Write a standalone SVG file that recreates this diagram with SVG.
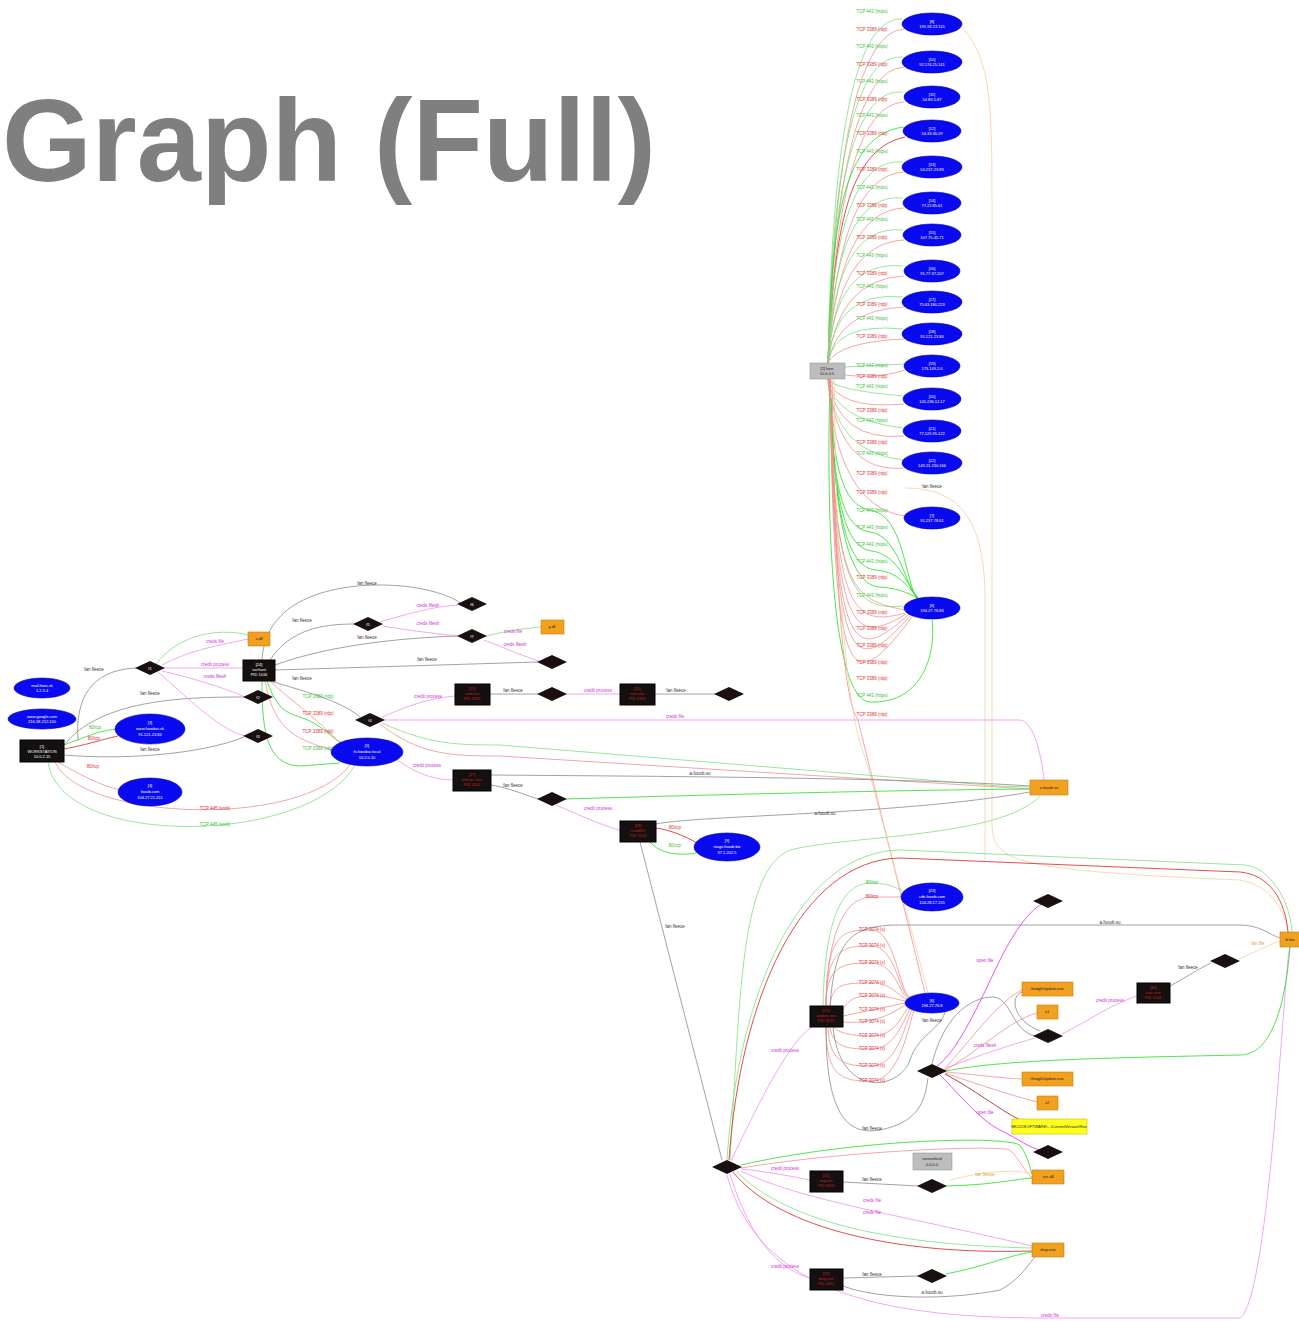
<svg xmlns="http://www.w3.org/2000/svg" width="1299" height="1321" viewBox="0 0 1299 1321">
<style>
text{font-family:"Liberation Sans",Arial,sans-serif}
.title{font-size:117px;font-weight:bold;fill:#7f7f7f}
.e path,path.e{fill:none;stroke-width:0.8}
.g{stroke:#7de07d}.gt{stroke:#22dd22;stroke-width:3}
.r{stroke:#f09090}.rt{stroke:#dd2020;stroke-width:2.5}
.k{stroke:#8a8a8a}.m{stroke:#f08ef0}.mt{stroke:#ee22ee;stroke-width:3}
.o{stroke:#f2d0a0}.dr{stroke:#a01010;stroke-width:3}
.l{font-size:4.5px;text-anchor:middle}
.lg{fill:#40c040}.lr{fill:#e03030}.lk{fill:#333}.lm{fill:#d030d0}.lo{fill:#e0a040}
.bl{fill:#0a0af0;stroke:#0000a0;stroke-width:0.6}
.bk{fill:#141010;stroke:#000}
.dm{fill:#1a1010}
.or{fill:#f2a020;stroke:#c08010;stroke-width:0.6}
.gr{fill:#bdbdbd;stroke:#999;stroke-width:0.6}
.ye{fill:#ffff20;stroke:#c0c000;stroke-width:0.6}
.nt{font-size:4px;text-anchor:middle;fill:#fff}
.nr{font-size:4px;text-anchor:middle;fill:#c02020}
.nd{font-size:4px;text-anchor:middle;fill:#222}
</style>
<defs>
<polygon id="dia" points="-15,0 0,-7 15,0 0,7"/>
</defs>
<rect width="1299" height="1321" fill="#fff"/>
<text class="title" x="2" y="181" textLength="654" lengthAdjust="spacingAndGlyphs">Graph (Full)</text>

<g id="connectors">
<!-- top column from gray rect -->
<g class="e">
<path class="g" d="M828,363 Q834,12 903,19"/><path class="r" d="M828,363 Q838,32 904,29"/>
<path class="g" d="M828,363 Q834,50 903,57"/><path class="r" d="M828,363 Q838,70 904,67"/>
<path class="g" d="M828,363 Q834,85 903,92"/><path class="r" d="M828,363 Q838,105 904,102"/>
<path class="gt" d="M828,363 C832,250 835,135 904,127"/><path class="rt" d="M828,363 C834,250 842,150 905,137"/>
<path class="g" d="M828,363 Q834,155 903,162"/><path class="r" d="M828,363 Q838,175 904,172"/>
<path class="g" d="M828,363 Q834,191 903,198"/><path class="r" d="M828,363 Q838,211 904,208"/>
<path class="g" d="M828,363 Q834,223 903,230"/><path class="r" d="M828,363 Q838,243 904,240"/>
<path class="g" d="M828,363 Q834,259 903,266"/><path class="r" d="M828,363 Q838,279 904,276"/>
<path class="g" d="M828,363 Q834,290 903,297"/><path class="r" d="M828,363 Q838,310 904,307"/>
<path class="g" d="M828,363 Q834,322 903,329"/><path class="r" d="M828,363 Q838,342 904,339"/>
<path class="g" d="M845,367 L904,364"/><path class="r" d="M845,375 C870,378 890,375 905,370"/>
<path class="g" d="M828,379 Q834,390 903,396"/><path class="r" d="M828,379 Q838,410 904,404"/>
<path class="g" d="M828,379 Q834,420 903,428"/><path class="r" d="M828,379 Q838,442 904,436"/>
<path class="g" d="M828,379 Q834,452 903,460"/><path class="r" d="M828,379 Q838,474 904,468"/>
<path class="r" d="M828,379 Q836,505 904,516"/>
<path class="gt" d="M830,379 C832,450 838,505 870,510 C905,515 905,585 918,600"/>
<path class="gt" d="M830,379 C832,470 838,528 870,532 C900,536 905,588 919,600"/>
<path class="gt" d="M830,379 C833,490 842,548 872,551 C900,555 908,590 920,600"/>
<path class="gt" d="M830,379 C833,510 846,568 876,570 C902,572 910,592 921,600"/>
<path class="gt" d="M830,379 C834,530 850,585 880,587 C905,589 912,596 922,600"/>
<path class="gt" d="M830,379 C826,520 832,700 870,702 C925,704 936,650 932,620"/>
<path class="g" d="M830,379 C833,580 850,612 903,606"/>
<path class="r" d="M830,379 C834,590 850,598 904,610"/>
<path class="r" d="M830,379 C834,610 850,628 905,613"/>
<path class="r" d="M830,379 C834,630 850,648 906,614"/>
<path class="r" d="M830,379 C834,650 850,668 908,615"/>
<path class="r" d="M830,379 C834,665 850,684 910,616"/>
<path class="r" d="M830,379 C834,690 848,702 912,617"/>
<path class="r" d="M832,380 C836,620 845,700 858,720 L925,993"/>
<path class="o" d="M834,380 C838,640 850,720 866,760 L928,993"/>
<path class="o" d="M963,28 C990,60 992,100 992,200 L992,820 C992,860 1000,870 1240,880 C1270,885 1285,910 1288,932"/>
<path class="o" d="M905,488 C960,488 985,520 985,600 L985,860"/>
</g>
<g class="l">
<text class="lg" x="872" y="13">TCP 443 (https)</text><text class="lr" x="872" y="31">TCP 3389 (rdp)</text>
<text class="lg" x="872" y="48">TCP 443 (https)</text><text class="lr" x="872" y="66">TCP 3389 (rdp)</text>
<text class="lg" x="872" y="83">TCP 443 (https)</text><text class="lr" x="872" y="101">TCP 3389 (rdp)</text>
<text class="lg" x="872" y="117">TCP 443 (https)</text><text class="lr" x="872" y="135">TCP 3389 (rdp)</text>
<text class="lg" x="872" y="153">TCP 443 (https)</text><text class="lr" x="872" y="171">TCP 3389 (rdp)</text>
<text class="lg" x="872" y="189">TCP 443 (https)</text><text class="lr" x="872" y="207">TCP 3389 (rdp)</text>
<text class="lg" x="872" y="221">TCP 443 (https)</text><text class="lr" x="872" y="239">TCP 3389 (rdp)</text>
<text class="lg" x="872" y="257">TCP 443 (https)</text><text class="lr" x="872" y="275">TCP 3389 (rdp)</text>
<text class="lg" x="872" y="288">TCP 443 (https)</text><text class="lr" x="872" y="306">TCP 3389 (rdp)</text>
<text class="lg" x="872" y="320">TCP 443 (https)</text><text class="lr" x="872" y="338">TCP 3389 (rdp)</text>
<text class="lg" x="872" y="367">TCP 443 (https)</text><text class="lr" x="872" y="378">TCP 3389 (rdp)</text>
<text class="lg" x="872" y="388">TCP 443 (https)</text><text class="lr" x="872" y="412">TCP 3389 (rdp)</text>
<text class="lg" x="872" y="422">TCP 443 (https)</text><text class="lr" x="872" y="444">TCP 3389 (rdp)</text>
<text class="lg" x="872" y="455">TCP 443 (https)</text><text class="lr" x="872" y="475">TCP 3389 (rdp)</text>
<text class="lr" x="872" y="494">TCP 3389 (rdp)</text>
<text class="lg" x="872" y="512">TCP 443 (https)</text>
<text class="lg" x="872" y="529">TCP 443 (https)</text>
<text class="lg" x="872" y="546">TCP 443 (https)</text>
<text class="lg" x="872" y="563">TCP 443 (https)</text>
<text class="lr" x="872" y="579">TCP 3389 (rdp)</text>
<text class="lg" x="872" y="597">TCP 443 (https)</text>
<text class="lr" x="872" y="614">TCP 3389 (rdp)</text>
<text class="lr" x="872" y="630">TCP 3389 (rdp)</text>
<text class="lr" x="872" y="647">TCP 3389 (rdp)</text>
<text class="lr" x="872" y="664">TCP 3389 (rdp)</text>
<text class="lr" x="872" y="680">TCP 3389 (rdp)</text>
<text class="lg" x="872" y="697">TCP 443 (https)</text>
<text class="lr" x="872" y="716">TCP 3389 (rdp)</text>
<text class="lk" x="932" y="488" fill="#aaa">fan fleece</text>
</g>

<!-- left cluster -->
<g class="e">
<path class="gt" d="M64,745 C90,735 100,731 116,729"/>
<path class="rt" d="M64,749 C90,744 100,740 118,736"/>
<path class="r" d="M58,762 C80,775 100,785 120,790"/>
<path class="k" d="M78,740 C75,700 90,670 136,668"/>
<path class="k" d="M64,745 C100,700 180,697 244,697"/>
<path class="k" d="M64,755 C120,760 200,755 244,737"/>
<path class="r" d="M55,762 C80,820 300,830 350,765"/>
<path class="g" d="M48,762 C60,850 310,845 355,765"/>
<path class="m" d="M162,665 C190,650 220,645 248,639"/>
<path class="g" d="M248,635 C220,628 180,633 156,664"/>
<path class="m" d="M164,668 L243,668"/>
<path class="m" d="M162,671 C200,680 230,690 245,697"/>
<path class="m" d="M158,672 C190,700 220,730 245,736"/>
<path class="k" d="M262,660 C265,600 330,585 380,585 C420,585 450,595 460,603"/>
<path class="k" d="M270,660 C290,630 320,624 355,624"/>
<path class="k" d="M275,665 C330,645 400,638 458,636"/>
<path class="k" d="M275,670 L538,662"/>
<path class="k" d="M270,681 C300,690 340,700 360,717"/>
<path class="gt" d="M262,681 C262,730 266,765 300,766 L340,763"/>
<path class="gt" d="M267,681 C280,718 292,712 312,722 C330,732 335,742 346,744"/>
<path class="r" d="M270,681 C290,700 310,712 345,748"/>
<path class="r" d="M265,681 C275,735 300,740 338,752"/>
<path class="m" d="M380,622 C420,610 440,606 458,605"/>
<path class="m" d="M382,626 C420,632 440,634 458,636"/>
<path class="g" d="M486,636 C510,630 530,628 541,627"/>
<path class="m" d="M484,640 C510,650 525,657 539,661"/>
<path class="m" d="M382,717 C410,705 430,698 455,696"/>
<path class="m" d="M384,720 L1020,720 C1035,722 1042,760 1044,780"/>
<path class="g" d="M382,723 C430,745 460,745 500,745 L1000,786 L1030,787"/>
<path class="r" d="M380,724 C420,755 450,756 500,756 L1030,789"/>
<path class="k" d="M490,694 L538,694"/>
<path class="m" d="M566,694 L620,694"/>
<path class="k" d="M655,694 L715,694"/>
<path class="m" d="M395,758 C410,770 430,780 453,780"/>
<path class="k" d="M491,775 C600,776 900,777 1030,786"/>
<path class="k" d="M491,785 C510,788 525,795 538,799"/>
<path class="gt" d="M566,799 C700,795 900,790 1030,789"/>
<path class="m" d="M556,805 C580,815 600,825 620,830"/>
<path class="rt" d="M656,828 C670,830 685,836 697,843"/>
<path class="gt" d="M650,842 C660,854 680,856 696,853"/>
<path class="k" d="M656,824 C700,815 900,815 1030,792"/>
<path class="k" d="M640,842 L722,1160"/>
<path class="g" d="M730,1160 C740,1000 740,870 790,850 C850,835 1000,838 1040,796"/>
</g>
<g class="l">
<text class="lg" x="95" y="729">80/tcp</text>
<text class="lr" x="94" y="740">80/tcp</text>
<text class="lr" x="93" y="768">80/tcp</text>
<text class="lk" x="94" y="671">fan fleece</text>
<text class="lk" x="150" y="695">fan fleece</text>
<text class="lk" x="150" y="751">fan fleece</text>
<text class="lr" x="215" y="810">TCP 445 (smb)</text>
<text class="lg" x="215" y="826">TCP 445 (smb)</text>
<text class="lm" x="215" y="643">creds file</text>
<text class="lm" x="215" y="666">credit process</text>
<text class="lm" x="215" y="678">creds filesh</text>
<text class="lk" x="367" y="585">fan fleece</text>
<text class="lk" x="302" y="622">fan fleece</text>
<text class="lk" x="367" y="639">fan fleece</text>
<text class="lk" x="427" y="661">fan fleece</text>
<text class="lk" x="302" y="680">fan fleece</text>
<text class="lg" x="318" y="698">TCP 3389 (rdp)</text>
<text class="lr" x="318" y="715">TCP 3389 (rdp)</text>
<text class="lr" x="318" y="733">TCP 3389 (rdp)</text>
<text class="lg" x="318" y="750">TCP 3389 (rdp)</text>
<text class="lm" x="428" y="607">creds filesh</text>
<text class="lm" x="428" y="625">creds filesh</text>
<text class="lm" x="513" y="633">creds file</text>
<text class="lm" x="515" y="646">creds filesh</text>
<text class="lm" x="428" y="698">credit process</text>
<text class="lm" x="675" y="718">creds file</text>
<text class="lk" x="513" y="692">fan fleece</text>
<text class="lm" x="598" y="692">credit process</text>
<text class="lk" x="676" y="692">fan fleece</text>
<text class="lm" x="427" y="767">credit process</text>
<text class="lk" x="700" y="775">a.fooob.su</text>
<text class="lk" x="513" y="787">fan fleece</text>
<text class="lm" x="598" y="810">credit process</text>
<text class="lr" x="675" y="829">80/tcp</text>
<text class="lg" x="675" y="847">80/tcp</text>
<text class="lk" x="825" y="815">a.fooob.su</text>
<text class="lk" x="675" y="928">fan fleece</text>
</g>

<!-- right cluster -->
<g class="e">
<path class="rt" d="M729,1160 C740,1000 800,860 900,858 L1240,872 C1270,875 1285,900 1288,932"/>
<path class="g" d="M727,1160 C738,990 800,852 900,850 L1245,865 C1270,868 1290,900 1292,932"/>
<path class="gt" d="M741,1165 C850,1140 1000,1135 1020,1145 C1030,1160 1030,1170 1032,1174"/>
<path class="r" d="M741,1168 C850,1150 1000,1145 1010,1150 C1020,1160 1025,1172 1032,1178"/>
<path class="m" d="M741,1169 C770,1172 790,1176 810,1180"/>
<path class="k" d="M843,1182 L918,1186"/>
<path class="gt" d="M946,1186 C990,1185 1010,1180 1032,1178"/>
<path class="o" d="M950,1180 C990,1170 1010,1170 1032,1173"/>
<path class="rt" d="M733,1172 C780,1230 900,1255 1032,1251"/>
<path class="g" d="M737,1172 C790,1225 900,1245 1032,1248"/>
<path class="m" d="M741,1171 C800,1200 900,1215 1032,1246"/>
<path class="m" d="M730,1174 C750,1240 780,1270 810,1278"/>
<path class="k" d="M843,1278 L918,1276"/>
<path class="gt" d="M946,1274 C990,1265 1010,1255 1032,1252"/>
<path class="k" d="M843,1286 C880,1300 950,1300 1000,1290 C1020,1280 1030,1262 1035,1257"/>
<path class="m" d="M727,1175 C760,1300 900,1318 1050,1318 L1240,1318 C1270,1300 1285,950 1290,947"/>
<path class="m" d="M731,1161 C760,1100 790,1040 812,1027"/>
<path class="r" d="M826,1006 C826,930 845,930 872,930 C895,930 900,995 910,997"/>
<path class="r" d="M826,1006 C826,946 845,946 872,946 C895,946 900,995 909,997"/>
<path class="r" d="M826,1006 C826,963 845,963 872,963 C895,963 900,996 908,998"/>
<path class="r" d="M830,1006 C832,983 845,983 872,983 C892,983 900,998 907,999"/>
<path class="r" d="M843,1010 C850,996 860,996 872,996 C890,996 898,1000 905,1001"/>
<path class="r" d="M843,1016 L905,1003"/>
<path class="r" d="M843,1022 C855,1023 880,1023 905,1005"/>
<path class="r" d="M834,1027 C840,1035 860,1036 872,1036 C895,1036 902,1015 908,1008"/>
<path class="r" d="M830,1027 C833,1049 850,1049 872,1049 C896,1049 904,1018 910,1009"/>
<path class="r" d="M828,1027 C829,1065 848,1066 872,1066 C898,1066 906,1020 912,1010"/>
<path class="r" d="M826,1027 C826,1080 845,1081 872,1081 C900,1081 910,1020 914,1010"/>
<path class="r" d="M826,1006 C828,920 850,897 872,897 C885,897 895,897 901,897"/>
<path class="g" d="M823,1006 C825,900 850,883 872,883 C890,883 900,890 905,892"/>
<path class="k" d="M830,1006 C835,940 850,925 900,925 L1240,925 C1260,925 1270,935 1280,938"/>
<path class="k" d="M826,1027 C826,1120 850,1135 880,1130 C920,1122 925,1100 928,1078"/>
<path class="k" d="M833,1027 C840,1100 900,1090 910,1060 C918,1035 940,1030 945,1012"/>
<path class="k" d="M932,1064 C940,1030 960,1000 990,997 C1012,995 1010,1030 1035,1036"/>
<path class="k" d="M1040,1031 C1012,1020 1010,996 1022,992"/>
<path class="mt" d="M937,1066 C960,1050 985,990 1000,960 C1015,930 1030,910 1042,904"/>
<path class="mt" d="M940,1075 C960,1095 980,1120 1000,1130 C1020,1140 1030,1148 1040,1150"/>
<path class="dr" d="M945,1074 C975,1090 1000,1110 1020,1120"/>
<path class="r" d="M944,1070 C970,1040 1000,1000 1022,990"/>
<path class="r" d="M944,1071 C980,1050 1010,1020 1037,1013"/>
<path class="r" d="M946,1072 C980,1075 1000,1078 1022,1079"/>
<path class="r" d="M945,1073 C980,1085 1010,1095 1037,1102"/>
<path class="gt" d="M946,1071 C1000,1060 1100,1058 1240,1055 C1270,1055 1285,1010 1290,947"/>
<path class="m" d="M946,1068 C980,1055 1010,1045 1035,1038"/>
<path class="m" d="M1062,1034 C1090,1020 1110,1005 1137,996"/>
<path class="k" d="M1170,986 C1190,975 1200,968 1211,963"/>
<path class="o" d="M1239,959 C1260,950 1270,944 1280,941"/>
</g>
<g class="l">
<text class="lm" x="785" y="1170">credit process</text>
<text class="lk" x="872" y="1181">fan fleece</text>
<text class="lo" x="985" y="1176">fan fleece</text>
<text class="lm" x="872" y="1202">creds file</text>
<text class="lm" x="872" y="1214">creds file</text>
<text class="lm" x="785" y="1268">credit process</text>
<text class="lk" x="872" y="1276">fan fleece</text>
<text class="lk" x="932" y="1294">a.fooob.su</text>
<text class="lm" x="1050" y="1317">creds file</text>
<text class="lm" x="785" y="1052">credit process</text>
<text class="lr" x="872" y="931">TCP 3074 (x)</text>
<text class="lr" x="872" y="947">TCP 3074 (x)</text>
<text class="lr" x="872" y="964">TCP 3074 (x)</text>
<text class="lr" x="872" y="984">TCP 3074 (x)</text>
<text class="lr" x="872" y="997">TCP 3074 (x)</text>
<text class="lr" x="872" y="1011">TCP 3074 (x)</text>
<text class="lr" x="872" y="1023">TCP 3074 (x)</text>
<text class="lr" x="872" y="1037">TCP 3074 (x)</text>
<text class="lr" x="872" y="1050">TCP 3074 (x)</text>
<text class="lr" x="872" y="1067">TCP 3074 (x)</text>
<text class="lr" x="872" y="1082">TCP 3074 (x)</text>
<text class="lr" x="872" y="898">80/tcp</text>
<text class="lg" x="872" y="884">80/tcp</text>
<text class="lk" x="1110" y="924">a.fooob.su</text>
<text class="lk" x="872" y="1130">fan fleece</text>
<text class="lk" x="932" y="1022">fan fleece</text>
<text class="lm" x="985" y="962">open file</text>
<text class="lm" x="985" y="1047">creds filesh</text>
<text class="lm" x="985" y="1114">open file</text>
<text class="lm" x="1110" y="1002">credit process</text>
<text class="lk" x="1188" y="969">fan fleece</text>
<text class="lo" x="1258" y="945">fan file</text>
</g>
</g>

<!-- nodes: top column -->
<g id="n_hub"><rect class="gr" x="810" y="363" width="35" height="16"/><text class="nd" x="827" y="370">[2] host</text><text class="nd" x="827" y="375">10.0.0.5</text></g>
<g id="n_t1"><ellipse class="bl" cx="932" cy="24" rx="30" ry="11"/><text class="nt" x="932" y="23">[8]</text><text class="nt" x="932" y="28">195.93.23.115</text></g>
<g id="n_t2"><ellipse class="bl" cx="932" cy="62" rx="30" ry="11"/><text class="nt" x="932" y="61">[10]</text><text class="nt" x="932" y="66">92.174.25.141</text></g>
<g id="n_t3"><ellipse class="bl" cx="932" cy="97" rx="28" ry="11"/><text class="nt" x="932" y="96">[11]</text><text class="nt" x="932" y="101">54.83.5.87</text></g>
<g id="n_t4"><ellipse class="bl" cx="932" cy="131" rx="29" ry="11"/><text class="nt" x="932" y="130">[12]</text><text class="nt" x="932" y="135">54.33.36.29</text></g>
<g id="n_t5"><ellipse class="bl" cx="932" cy="167" rx="30" ry="11"/><text class="nt" x="932" y="166">[13]</text><text class="nt" x="932" y="171">54.237.23.83</text></g>
<g id="n_t6"><ellipse class="bl" cx="932" cy="203" rx="29" ry="11"/><text class="nt" x="932" y="202">[14]</text><text class="nt" x="932" y="207">77.22.85.61</text></g>
<g id="n_t7"><ellipse class="bl" cx="932" cy="235" rx="29" ry="11"/><text class="nt" x="932" y="234">[15]</text><text class="nt" x="932" y="239">107.75.45.71</text></g>
<g id="n_t8"><ellipse class="bl" cx="932" cy="271" rx="28" ry="11"/><text class="nt" x="932" y="270">[16]</text><text class="nt" x="932" y="275">91.77.37.207</text></g>
<g id="n_t9"><ellipse class="bl" cx="932" cy="302" rx="30" ry="11"/><text class="nt" x="932" y="301">[17]</text><text class="nt" x="932" y="306">75.63.180.223</text></g>
<g id="n_t10"><ellipse class="bl" cx="932" cy="334" rx="30" ry="11"/><text class="nt" x="932" y="333">[18]</text><text class="nt" x="932" y="338">91.121.23.84</text></g>
<g id="n_t11"><ellipse class="bl" cx="932" cy="366" rx="28" ry="11"/><text class="nt" x="932" y="365">[19]</text><text class="nt" x="932" y="370">173.149.2.0</text></g>
<g id="n_t12"><ellipse class="bl" cx="932" cy="399" rx="29" ry="11"/><text class="nt" x="932" y="398">[20]</text><text class="nt" x="932" y="403">145.236.12.17</text></g>
<g id="n_t13"><ellipse class="bl" cx="932" cy="431" rx="29" ry="11"/><text class="nt" x="932" y="430">[21]</text><text class="nt" x="932" y="435">77.125.95.122</text></g>
<g id="n_t14"><ellipse class="bl" cx="932" cy="463" rx="30" ry="11"/><text class="nt" x="932" y="462">[22]</text><text class="nt" x="932" y="467">149.21.230.166</text></g>
<g id="n_t15"><ellipse class="bl" cx="932" cy="518" rx="28" ry="11"/><text class="nt" x="932" y="517">[7]</text><text class="nt" x="932" y="522">91.237.78.61</text></g>
<g id="n_t16"><ellipse class="bl" cx="932" cy="608" rx="28" ry="11"/><text class="nt" x="932" y="607">[6]</text><text class="nt" x="932" y="612">194.27.76.84</text></g>

<!-- nodes: left cluster -->
<g id="n_mail"><ellipse class="bl" cx="42" cy="688" rx="28" ry="10"/><text class="nt" x="42" y="687">mail.fooo.sk</text><text class="nt" x="42" y="692">1.2.3.4</text></g>
<g id="n_www"><ellipse class="bl" cx="42" cy="719" rx="34" ry="10"/><text class="nt" x="42" y="718">www.google.com</text><text class="nt" x="42" y="723">216.58.212.100</text></g>
<g id="n_src"><rect class="bk" x="20" y="740" width="44" height="22"/><text class="nt" x="42" y="748">[1]</text><text class="nt" x="42" y="753">WORKSTATION</text><text class="nt" x="42" y="758">10.0.2.15</text></g>
<g id="n_e1"><ellipse class="bl" cx="150" cy="729" rx="35" ry="15"/><text class="nt" x="150" y="724">[3]</text><text class="nt" x="150" y="730">www.fooobar.sk</text><text class="nt" x="150" y="736">91.121.23.84</text></g>
<g id="n_e2"><ellipse class="bl" cx="150" cy="792" rx="32" ry="14"/><text class="nt" x="150" y="787">[4]</text><text class="nt" x="150" y="793">fooob.com</text><text class="nt" x="150" y="799">104.27.21.251</text></g>
<g id="n_d1"><use href="#dia" x="150" y="668" class="dm"/><text class="nt" x="150" y="670">f1</text></g>
<g id="n_o1"><rect class="or" x="248" y="632" width="22" height="14"/><text class="nd" x="259" y="640">x.dll</text></g>
<g id="n_b1"><rect class="bk" x="243" y="660" width="32" height="21"/><text class="nt" x="259" y="666">[24]</text><text class="nt" x="259" y="671">svchost</text><text class="nt" x="259" y="676">PID 1016</text></g>
<g id="n_d2"><use href="#dia" x="258" y="697" class="dm"/><text class="nt" x="258" y="699">f2</text></g>
<g id="n_d3"><use href="#dia" x="258" y="736" class="dm"/><text class="nt" x="258" y="738">f3</text></g>
<g id="n_e3"><ellipse class="bl" cx="367" cy="752" rx="36" ry="14"/><text class="nt" x="367" y="747">[5]</text><text class="nt" x="367" y="753">fs.fooobar.local</text><text class="nt" x="367" y="759">10.2.0.10</text></g>
<g id="n_d4"><use href="#dia" x="370" y="720" class="dm"/><text class="nt" x="370" y="722">f4</text></g>
<g id="n_d5"><use href="#dia" x="368" y="624" class="dm"/><text class="nt" x="368" y="626">f5</text></g>
<g id="n_d6"><use href="#dia" x="472" y="604" class="dm"/><text class="nt" x="472" y="606">f6</text></g>
<g id="n_d7"><use href="#dia" x="472" y="636" class="dm"/><text class="nt" x="472" y="638">f7</text></g>
<g id="n_o2"><rect class="or" x="541" y="620" width="23" height="14"/><text class="nd" x="552" y="628">y.dll</text></g>
<g id="n_d8"><use href="#dia" x="552" y="662" class="dm"/></g>
<g id="n_b2"><rect class="bk" x="455" y="684" width="35" height="21"/><text class="nr" x="472" y="690">[25]</text><text class="nr" x="472" y="695">cmd.exe</text><text class="nr" x="472" y="700">PID 2200</text></g>
<g id="n_d9"><use href="#dia" x="552" y="694" class="dm"/></g>
<g id="n_b3"><rect class="bk" x="620" y="684" width="35" height="21"/><text class="nr" x="637" y="690">[26]</text><text class="nr" x="637" y="695">net.exe</text><text class="nr" x="637" y="700">PID 2304</text></g>
<g id="n_d10"><use href="#dia" x="729" y="694" class="dm"/></g>
<g id="n_b4"><rect class="bk" x="453" y="770" width="38" height="21"/><text class="nr" x="472" y="776">[27]</text><text class="nr" x="472" y="781">psexec.exe</text><text class="nr" x="472" y="786">PID 2412</text></g>
<g id="n_d11"><use href="#dia" x="552" y="799" class="dm"/></g>
<g id="n_b5"><rect class="bk" x="620" y="821" width="36" height="21"/><text class="nr" x="638" y="827">[28]</text><text class="nr" x="638" y="832">rundll32</text><text class="nr" x="638" y="837">PID 2520</text></g>
<g id="n_e4"><ellipse class="bl" cx="727" cy="847" rx="33" ry="14"/><text class="nt" x="727" y="842">[9]</text><text class="nt" x="727" y="848">stage.fooob.biz</text><text class="nt" x="727" y="854">37.1.202.5</text></g>
<g id="n_o3"><rect class="or" x="1030" y="780" width="38" height="15"/><text class="nd" x="1049" y="789">a.fooob.su</text></g>

<!-- nodes: right cluster -->
<g id="n_e5"><ellipse class="bl" cx="932" cy="897" rx="31" ry="14"/><text class="nt" x="932" y="892">[23]</text><text class="nt" x="932" y="898">cdn.fooob.com</text><text class="nt" x="932" y="904">104.28.17.155</text></g>
<g id="n_d12"><use href="#dia" x="1048" y="901" class="dm"/></g>
<g id="n_b6"><rect class="bk" x="810" y="1006" width="33" height="21"/><text class="nr" x="826" y="1012">[29]</text><text class="nr" x="826" y="1017">update.exe</text><text class="nr" x="826" y="1022">PID 3072</text></g>
<g id="n_e6"><ellipse class="bl" cx="932" cy="1003" rx="27" ry="10"/><text class="nt" x="932" y="1002">[6]</text><text class="nt" x="932" y="1007">194.27.76.8</text></g>
<g id="n_o4"><rect class="or" x="1022" y="982" width="51" height="14"/><text class="nd" x="1047" y="990">GoogleUpdate.exe</text></g>
<g id="n_o5"><rect class="or" x="1037" y="1005" width="21" height="14"/><text class="nd" x="1047" y="1013">x1</text></g>
<g id="n_d13"><use href="#dia" x="1048" y="1036" class="dm"/></g>
<g id="n_b7"><rect class="bk" x="1137" y="983" width="33" height="20"/><text class="nr" x="1153" y="989">[30]</text><text class="nr" x="1153" y="994">task.exe</text><text class="nr" x="1153" y="999">PID 3144</text></g>
<g id="n_d14"><use href="#dia" x="1225" y="961" class="dm"/></g>
<g id="n_o6"><rect class="or" x="1280" y="932" width="22" height="15"/><text class="nd" x="1290" y="941">b.foo</text></g>
<g id="n_d15"><use href="#dia" x="932" y="1071" class="dm"/></g>
<g id="n_o7"><rect class="or" x="1022" y="1072" width="51" height="14"/><text class="nd" x="1047" y="1080">GoogleUpdate.exe</text></g>
<g id="n_o8"><rect class="or" x="1037" y="1096" width="21" height="14"/><text class="nd" x="1047" y="1104">x2</text></g>
<g id="n_y1"><rect class="ye" x="1012" y="1119" width="75" height="15"/><text class="nd" x="1049" y="1128">HKCU\SOFTWARE\...\CurrentVersion\Run</text></g>
<g id="n_d16"><use href="#dia" x="1048" y="1152" class="dm"/></g>
<g id="n_d17"><use href="#dia" x="727" y="1167" class="dm"/></g>
<g id="n_g2"><rect class="gr" x="913" y="1153" width="39" height="17"/><text class="nd" x="932" y="1160">unresolved</text><text class="nd" x="932" y="1166">0.0.0.0</text></g>
<g id="n_b8"><rect class="bk" x="810" y="1171" width="33" height="21"/><text class="nr" x="826" y="1177">[31]</text><text class="nr" x="826" y="1182">reg.exe</text><text class="nr" x="826" y="1187">PID 3320</text></g>
<g id="n_d18"><use href="#dia" x="932" y="1186" class="dm"/></g>
<g id="n_o9"><rect class="or" x="1032" y="1170" width="32" height="14"/><text class="nd" x="1048" y="1178">svc.dll</text></g>
<g id="n_o10"><rect class="or" x="1032" y="1243" width="32" height="14"/><text class="nd" x="1048" y="1251">drop.exe</text></g>
<g id="n_b9"><rect class="bk" x="810" y="1269" width="33" height="21"/><text class="nr" x="826" y="1275">[32]</text><text class="nr" x="826" y="1280">drop.exe</text><text class="nr" x="826" y="1285">PID 3412</text></g>
<g id="n_d19"><use href="#dia" x="932" y="1276" class="dm"/></g>
</svg>
